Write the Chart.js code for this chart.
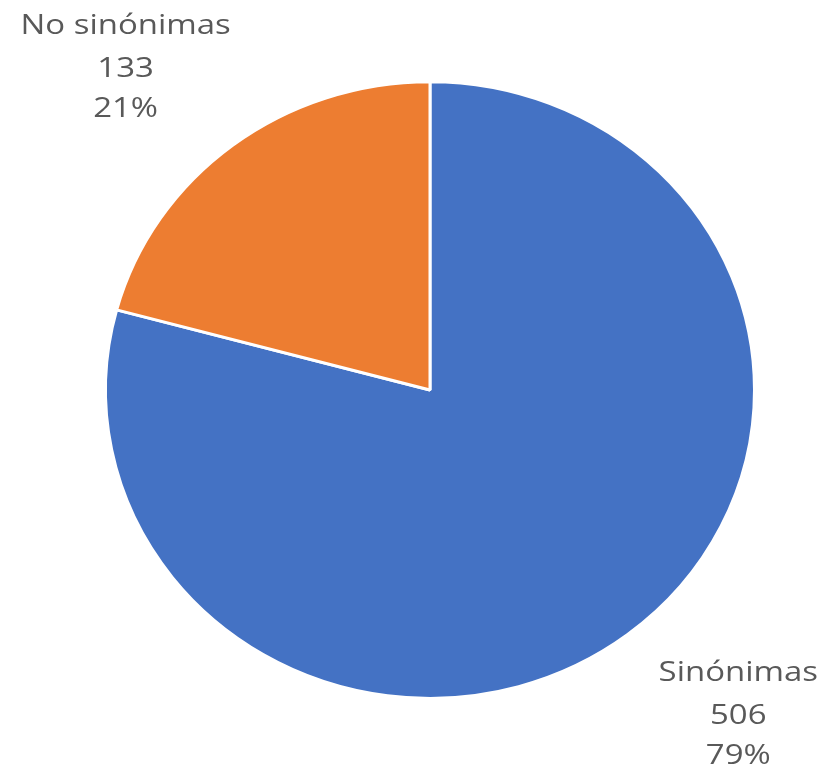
<!DOCTYPE html>
<html lang="es">
<head>
    <meta charset="UTF-8">
    <title>Sinónimas</title>
    <script src="https://cdn.jsdelivr.net/npm/chart.js@4.4.1/dist/chart.umd.min.js"></script>
    <style>
        html, body { margin: 0; padding: 0; background: #ffffff; }
        #wrap { width: 827px; height: 774px; position: relative; }
    </style>
</head>
<body>
    <div id="wrap"><canvas id="pieChart"></canvas></div>
    <script>
        const labels = ['Sinónimas', 'No sinónimas'];
        const values = [506, 133];
        const colors = ['#4472C4', '#ED7D31'];

        // the pie is a little squashed vertically, text a little wide
        const yScale = 0.95;
        const textStretch = 1.22;

        // label anchors as fractions of the radius from the pie centre
        const labelAnchor = [[0.95, 1.005], [-0.938, -0.988]];

        const squash = {
            id: 'squash',
            beforeDatasetsDraw(chart) {
                const arc = chart.getDatasetMeta(0).data[0];
                const ctx = chart.ctx;
                ctx.save();
                ctx.translate(arc.x, arc.y);
                ctx.scale(1, yScale);
                ctx.translate(-arc.x, -arc.y);
            },
            afterDatasetsDraw(chart) {
                chart.ctx.restore();
            }
        };

        const dataLabels = {
            id: 'dataLabels',
            afterDatasetsDraw(chart) {
                const ctx = chart.ctx;
                const meta = chart.getDatasetMeta(0);
                const total = values.reduce((a, b) => a + b, 0);
                meta.data.forEach((arc, i) => {
                    const r = arc.outerRadius;
                    const x = arc.x + labelAnchor[i][0] * r;
                    const y = arc.y + labelAnchor[i][1] * r;
                    const pct = Math.round(values[i] / total * 100) + '%';
                    ctx.save();
                    ctx.translate(x, y);
                    ctx.scale(textStretch, 1);
                    ctx.font = '27px "Open Sans", sans-serif';
                    ctx.fillStyle = '#595959';
                    ctx.textAlign = 'center';
                    ctx.textBaseline = 'middle';
                    ctx.fillText(labels[i], 0, -43);
                    ctx.fillText(String(values[i]), 0, 0);
                    ctx.fillText(pct, 0, 40);
                    ctx.restore();
                });
            }
        };

        new Chart(document.getElementById('pieChart'), {
            type: 'pie',
            data: {
                labels: labels,
                datasets: [{
                    data: values,
                    backgroundColor: colors,
                    borderColor: '#ffffff',
                    borderWidth: 3
                }]
            },
            options: {
                responsive: true,
                maintainAspectRatio: false,
                animation: false,
                layout: { padding: { top: 64, bottom: 58, left: 104, right: 71 } },
                plugins: {
                    legend: { display: false },
                    tooltip: { enabled: false }
                }
            },
            plugins: [squash, dataLabels]
        });
    </script>
</body>
</html>
